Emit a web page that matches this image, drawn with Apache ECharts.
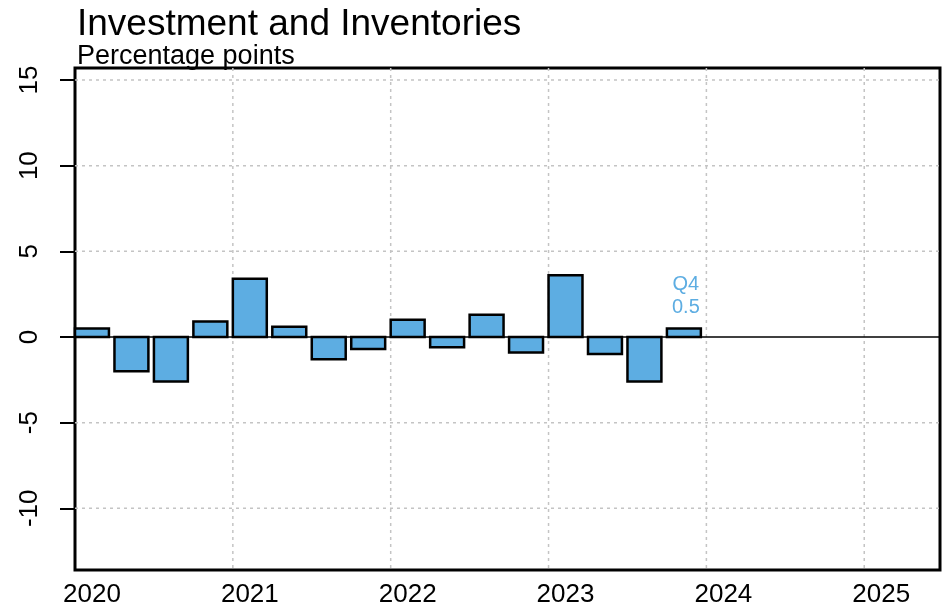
<!DOCTYPE html>
<html>
<head>
<meta charset="utf-8">
<script src="https://cdn.jsdelivr.net/npm/echarts@6/dist/echarts.min.js"></script>
<style>
html,body{margin:0;padding:0;background:#fff;}
#chart{width:947px;height:609px;}
</style>
</head>
<body>
<div id="chart"></div>
<script>
// ---- data ----
const quarterLabels = ['2020 Q1','2020 Q2','2020 Q3','2020 Q4',
                       '2021 Q1','2021 Q2','2021 Q3','2021 Q4',
                       '2022 Q1','2022 Q2','2022 Q3','2022 Q4',
                       '2023 Q1','2023 Q2','2023 Q3','2023 Q4'];
const contributions = [0.5, -2.0, -2.6, 0.9,
                       3.4, 0.6, -1.3, -0.7,
                       1.0, -0.6, 1.3, -0.9,
                       3.6, -1.0, -2.6, 0.5];
const xTicks = [2020, 2021, 2022, 2023, 2024, 2025];
const yTicks = [-10, -5, 0, 5, 10, 15];
const titleText = 'Investment and Inventories';
const subtitleText = 'Percentage points';

// ---- styles ----
const FONT = '"Liberation Sans", Arial, Helvetica, sans-serif';
const BAR_COLOR = '#5DADE2';
const BAR_W = 0.215; // fraction of a year

function toYearPos(lbl){
  const parts = lbl.split(' Q');
  return Number(parts[0]) + (Number(parts[1]) - 1) / 4;
}
const barData = quarterLabels.map((q, i) => [toYearPos(q), contributions[i], q]);
const gridData = [];
xTicks.forEach(v => { if (v !== xTicks[0]) gridData.push([v, 0]); });
yTicks.forEach(v => { gridData.push([v, 1]); });

const chart = echarts.init(document.getElementById('chart'), null, {renderer: 'canvas'});
const lastIdx = barData.length - 1;

chart.setOption({
  animation: false,
  backgroundColor: '#fff',
  title: {
    text: titleText,
    subtext: subtitleText,
    left: 72,
    top: 1,
    itemGap: 0,
    textStyle: {fontFamily: FONT, fontSize: 37, fontWeight: 'normal', color: '#000'},
    subtextStyle: {fontFamily: FONT, fontSize: 27, color: '#000'}
  },
  grid: {
    left: 75, top: 68, width: 865, height: 502,
    show: true, borderColor: '#000', borderWidth: 3, backgroundColor: 'transparent',
    containLabel: false
  },
  xAxis: {
    type: 'value', min: 2020, max: 2025.48,
    axisLine: {show: false}, axisTick: {show: false}, splitLine: {show: false},
    axisLabel: {
      customValues: xTicks, margin: 12, fontFamily: FONT, fontSize: 26, color: '#000',
      padding: [0, 0, 0, 34], formatter: v => String(v)
    }
  },
  yAxis: {
    type: 'value', min: -13.6, max: 15.7,
    axisLine: {show: false}, splitLine: {show: false},
    axisTick: {show: true, customValues: yTicks, length: 15, lineStyle: {color: '#000', width: 2}},
    axisLabel: {
      customValues: yTicks, rotate: 90, margin: 32, fontFamily: FONT, fontSize: 26, color: '#000',
      formatter: v => String(v)
    }
  },
  series: [
    {
      type: 'custom', z: 1, silent: true,
      data: gridData,
      renderItem: function (params, api) {
        const cs = params.coordSys;
        const v = api.value(0), dim = api.value(1);
        if (dim === 0) {
          const p = api.coord([v, 0]);
          return {type: 'line', shape: {x1: p[0], y1: cs.y, x2: p[0], y2: cs.y + cs.height},
                  style: {stroke: '#c4c4c4', lineWidth: 1.5, lineDash: [3, 4]}};
        }
        const p = api.coord([2020, v]);
        if (v === 0) {
          return {type: 'line', shape: {x1: cs.x, y1: p[1], x2: cs.x + cs.width, y2: p[1]},
                  style: {stroke: '#000', lineWidth: 1.5}, z2: 5};
        }
        return {type: 'line', shape: {x1: cs.x, y1: p[1], x2: cs.x + cs.width, y2: p[1]},
                style: {stroke: '#c4c4c4', lineWidth: 1.5, lineDash: [3, 4]}};
      }
    },
    {
      type: 'custom', z: 3, silent: true,
      data: barData,
      renderItem: function (params, api) {
        const x0 = api.value(0), v = api.value(1);
        const p0 = api.coord([x0, 0]);
        const p1 = api.coord([x0 + BAR_W, v]);
        const rect = {
          type: 'rect',
          shape: {x: p0[0], y: Math.min(p0[1], p1[1]), width: p1[0] - p0[0], height: Math.abs(p1[1] - p0[1])},
          style: {fill: BAR_COLOR, stroke: '#000', lineWidth: 2.5}
        };
        if (params.dataIndex !== lastIdx) return rect;
        const q = quarterLabels[lastIdx].split(' ')[1];
        return {
          type: 'group',
          children: [rect, {
            type: 'text',
            style: {
              text: q + '\n' + v.toFixed(1),
              x: (p0[0] + p1[0]) / 2 + 2, y: Math.min(p0[1], p1[1]) - 9,
              align: 'center', verticalAlign: 'bottom',
              fontFamily: FONT, fontSize: 20, lineHeight: 23, fill: BAR_COLOR
            }
          }]
        };
      }
    }
  ]
});
</script>
</body>
</html>
